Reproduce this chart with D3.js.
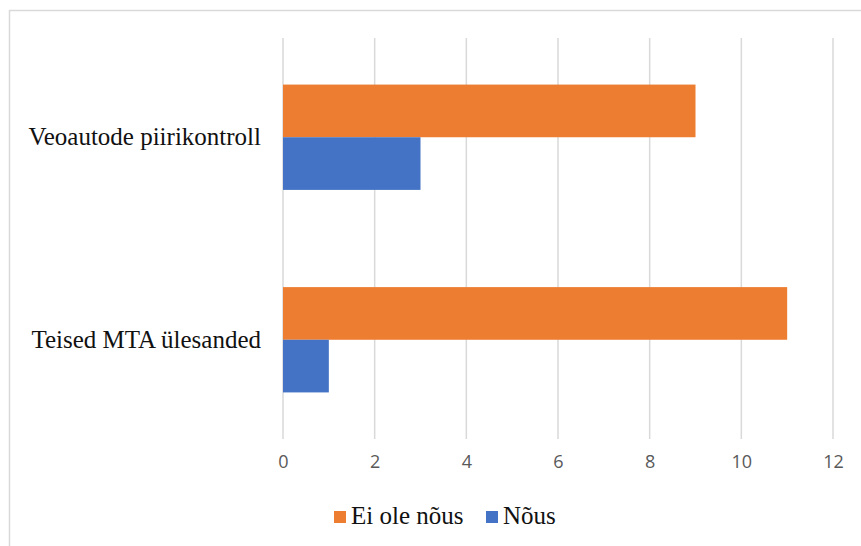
<!DOCTYPE html>
<html>
<head>
<meta charset="utf-8">
<script src="https://cdn.jsdelivr.net/npm/d3@7/dist/d3.min.js"></script>
<style>
  html, body { margin: 0; padding: 0; background: #fff; }
  svg { display: block; }
</style>
</head>
<body>
<svg id="chart" width="861" height="546"></svg>
<script>
// Survey answers per topic
const categories = ["Veoautode piirikontroll", "Teised MTA ülesanded"];
const seriesNames = ["Ei ole nõus", "Nõus"];
const eiOleNous = [9, 11];
const nous = [3, 1];
const xTicks = [0, 2, 4, 6, 8, 10, 12];
const colors = ["#ED7D31", "#4472C4"];

const SERIF = '"Liberation Serif"';
const SANS = '"Open Sans"';

const seriesValues = [eiOleNous, nous];
const rows = categories.map((c, i) => ({
  category: c,
  values: seriesNames.map((s, j) => ({ series: s, value: seriesValues[j][i], idx: j }))
}));

const svg = d3.select("#chart");

// Outer chart frame
svg.append("rect")
  .attr("x", 9.5).attr("y", 10.5)
  .attr("width", 860).attr("height", 545)
  .attr("fill", "#fff")
  .attr("stroke", "#d9d9d9")
  .attr("stroke-width", 1.5);

const plot = { left: 283, right: 833, top: 38, bottom: 439 };

const x = d3.scaleLinear().domain([0, 12]).range([plot.left, plot.right]);
const y = d3.scaleBand().domain(categories).range([plot.top, plot.bottom]).paddingInner(0.48).paddingOuter(0.23);
const ySub = d3.scaleBand().domain(seriesNames).range([0, y.bandwidth()]);

// Vertical gridlines
svg.append("g")
  .selectAll("line")
  .data(xTicks)
  .join("line")
  .attr("x1", d => x(d)).attr("x2", d => x(d))
  .attr("y1", plot.top).attr("y2", plot.bottom)
  .attr("stroke", "#d9d9d9")
  .attr("stroke-width", 1.5);

// Bars
const groups = svg.append("g")
  .selectAll("g")
  .data(rows)
  .join("g")
  .attr("transform", d => `translate(0,${y(d.category)})`);

groups.selectAll("rect")
  .data(d => d.values)
  .join("rect")
  .attr("x", x(0))
  .attr("y", d => ySub(d.series))
  .attr("width", d => x(d.value) - x(0))
  .attr("height", ySub.bandwidth())
  .attr("fill", d => colors[d.idx]);

// X axis tick labels
const xAxis = d3.axisBottom(x).tickValues(xTicks).tickSize(0).tickPadding(0);
const gx = svg.append("g")
  .attr("transform", `translate(0,${plot.bottom + 16})`)
  .call(xAxis);
gx.select(".domain").remove();
gx.selectAll("text")
  .attr("fill", "#595959")
  .style("font-family", SANS)
  .style("font-size", "18px");

// Y axis category labels
const yAxis = d3.axisLeft(y).tickSize(0).tickPadding(22);
const gy = svg.append("g")
  .attr("transform", `translate(${plot.left},0)`)
  .call(yAxis);
gy.select(".domain").remove();
gy.selectAll("text")
  .attr("fill", "#111")
  .style("font-family", SERIF)
  .style("font-size", "25px");

// Legend
const legend = svg.append("g").attr("transform", "translate(334,511)");
const legendX = [0, 152];
const items = legend.selectAll("g")
  .data(seriesNames)
  .join("g")
  .attr("transform", (d, i) => `translate(${legendX[i]},0)`);
items.append("rect")
  .attr("width", 12).attr("height", 12)
  .attr("fill", (d, i) => colors[i]);
items.append("text")
  .attr("x", 17).attr("y", 13)
  .attr("fill", "#111")
  .style("font-family", SERIF)
  .style("font-size", "25px")
  .text(d => d);
</script>
</body>
</html>
